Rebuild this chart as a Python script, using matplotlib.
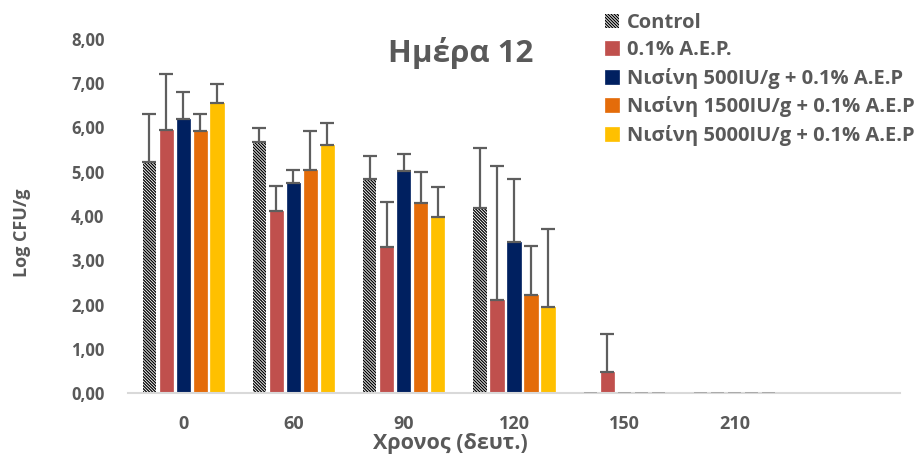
import matplotlib
matplotlib.use("Agg")
import matplotlib.pyplot as plt
import numpy as np

FONTS = ['Open Sans', 'Roboto', 'DejaVu Sans']
plt.rcParams['font.family'] = FONTS
plt.rcParams['hatch.linewidth'] = 0.9

# Sampling times (seconds)
times = ['0', '60', '90', '120', '150', '210']

labels = ['Control', '0.1% Α.Ε.Ρ.', 'Νισίνη 500IU/g + 0.1% Α.Ε.Ρ',
          'Νισίνη 1500IU/g + 0.1% Α.Ε.Ρ', 'Νισίνη 5000IU/g + 0.1% Α.Ε.Ρ']

control = [5.23, 5.67, 4.84, 4.19, 0.00, 0.00]
control_err = [1.08, 0.31, 0.52, 1.35, 0.00, 0.00]
aep = [5.94, 4.11, 3.29, 2.11, 0.47, 0.00]
aep_err = [1.27, 0.57, 1.03, 3.03, 0.86, 0.00]
nis500 = [6.20, 4.75, 5.01, 3.41, 0.00, 0.00]
nis500_err = [0.60, 0.29, 0.39, 1.43, 0.00, 0.00]
nis1500 = [5.92, 5.04, 4.29, 2.21, 0.00, 0.00]
nis1500_err = [0.39, 0.88, 0.70, 1.11, 0.00, 0.00]
nis5000 = [6.55, 5.61, 3.98, 1.94, 0.00, 0.00]
nis5000_err = [0.44, 0.49, 0.68, 1.77, 0.00, 0.00]

values = [control, aep, nis500, nis1500, nis5000]
errors = [control_err, aep_err, nis500_err, nis1500_err, nis5000_err]
colors = ['white', '#C0504D', '#002060', '#E46C0A', '#FFC000']

TXT = '#595959'

fig = plt.figure(figsize=(9.2, 4.55), dpi=100)
ax = fig.add_axes([128 / 920, 62 / 455, 772 / 920, 354 / 455])

x = np.arange(len(times))
pitch = 0.154
width = 0.12
handles = []
for i, (vals, errs, col) in enumerate(zip(values, errors, colors)):
    xi = x + (i - 2) * pitch
    vals = np.array(vals)
    errs = np.array(errs)
    if i == 0:
        b = ax.bar(xi, vals, width, color='white', edgecolor='black',
                   hatch='\\' * 11, linewidth=0, zorder=2)
    else:
        b = ax.bar(xi, vals, width, color=col, edgecolor=col, linewidth=0.5, zorder=2)
    handles.append(b)
    # zero values show as a thin grey dash on the baseline
    zero = vals == 0
    ax.bar(xi[zero], np.full(zero.sum(), 0.02), width, bottom=0.0,
           color='#ABABAB', linewidth=0, zorder=3)
    m = errs > 0
    ax.errorbar(xi[m], vals[m], yerr=[np.zeros(m.sum()), errs[m]], fmt='none',
                ecolor='#5E5E5E', elinewidth=1.6, capsize=5, capthick=1.6, zorder=4)

ax.set_xlim(-0.5, 6.5)
ax.set_ylim(0, 8)
ax.set_xticks(x)
ax.set_xticklabels(times)
yt = np.arange(0, 9)
ax.set_yticks(yt)
ax.set_yticklabels([f'{v:.2f}'.replace('.', ',') for v in yt])
for lab in ax.get_xticklabels():
    lab.set_fontweight('bold')
    lab.set_color(TXT)
    lab.set_fontsize(13)
for lab in ax.get_yticklabels():
    lab.set_fontweight('bold')
    lab.set_color(TXT)
    lab.set_fontsize(12)
ax.tick_params(axis='both', length=0)
ax.tick_params(axis='y', pad=17)
ax.tick_params(axis='x', pad=16)
for s in ['top', 'right', 'left']:
    ax.spines[s].set_visible(False)
ax.spines['bottom'].set_color('#D9D9D9')
ax.spines['bottom'].set_linewidth(1.5)

fig.text(461 / 920, 1 - 53 / 455, 'Ημέρα 12', ha='center', va='center',
         fontsize=22.5, fontweight='bold', color=TXT)
fig.text(22 / 920, 1 - 233 / 455, 'Log CFU/g', ha='center', va='center',
         rotation=90, fontsize=13, fontweight='bold', color=TXT)
fig.text(450 / 920, 1 - 443 / 455, 'Χρονος (δευτ.)', ha='center', va='center',
         fontsize=15.5, fontweight='bold', color=TXT)

leg = fig.legend(handles, labels, loc='upper left',
                 bbox_to_anchor=(605 / 920, 1 - 13 / 455), frameon=False,
                 handlelength=0.7, handleheight=0.7, handletextpad=0.4,
                 labelspacing=0.37, borderaxespad=0, borderpad=0,
                 prop={'family': FONTS, 'weight': 'bold', 'size': 14.5})
for t in leg.get_texts():
    t.set_color(TXT)

fig.savefig('out.png', dpi=100)
